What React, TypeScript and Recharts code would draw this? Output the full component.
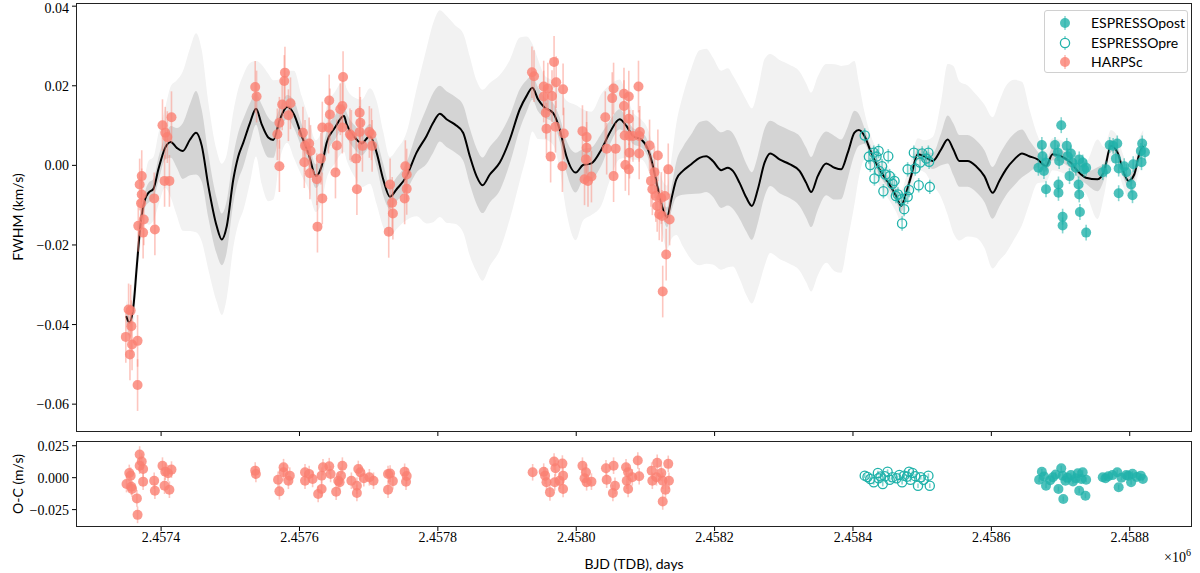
import React from "react";
import { ComposedChart, Area, Line, Scatter, ErrorBar, XAxis, YAxis } from "recharts";

// time axis: BJD - 2457000 (days)
const xTicks = [400, 600, 800, 1000, 1200, 1400, 1600, 1800];
const topTicks = [-0.06, -0.04, -0.02, 0, 0.02, 0.04];
const resTicks = [-0.025, 0, 0.025];

// GP prediction: mean and half widths of the two shaded bands
const gpT = [349.5, 354.2, 360, 364.9, 371.1, 376.9, 381.7, 388.9, 396.1, 405.8, 414, 422.7, 431.3, 441.9, 450.5, 458.8, 468.3, 480.4, 487.7, 494.9, 504.4, 511.6, 518.8, 528.5, 537.2, 545.4, 554.9, 562.2, 571.8, 582.4, 592.1, 603.2, 612.7, 623.8, 632, 639.3, 651.3, 664.3, 668.2, 680.1, 689.8, 701.8, 711.5, 721, 730.7, 740.4, 754.8, 769.2, 783.7, 793.2, 802.9, 812.5, 824.5, 836.5, 846.2, 855.9, 864.5, 875.1, 889.5, 904, 918.4, 928.1, 936.7, 944.8, 954.5, 966.5, 976.2, 985.8, 999.3, 1009.8, 1021.9, 1036.4, 1048.4, 1062.8, 1072.5, 1082, 1094.1, 1103.7, 1110.9, 1118.1, 1125.3, 1131.1, 1137.5, 1144.7, 1154.2, 1166.3, 1178.3, 1188, 1197.5, 1209.6, 1219.2, 1226.4, 1236.1, 1245.8, 1253.9, 1262.5, 1272.2, 1280.4, 1293.8, 1308.3, 1322.7, 1332.4, 1339.6, 1349.1, 1361.3, 1373.3, 1382.9, 1392.5, 1402.1, 1408.4, 1416.6, 1426.3, 1438.2, 1452.7, 1462.4, 1469.6, 1476.8, 1484, 1493.6, 1503.2, 1515.2, 1527.3, 1536.9, 1545.1, 1553.8, 1565.7, 1577.9, 1589.9, 1601.8, 1611.5, 1621.2, 1633.2, 1644.3, 1654.8, 1666.8, 1678.9, 1688.5, 1700.6, 1715, 1724.6, 1736.7, 1753.5, 1763.1, 1772.8, 1782.4, 1790.6, 1798.3, 1806.5, 1813.7, 1819.5];
const gpMean = [-0.0379, -0.0395, -0.0354, -0.0253, -0.0136, -0.0085, -0.0069, -0.0059, -0.001, 0.0044, 0.0059, 0.0044, 0.0036, 0.0065, 0.0082, 0.0049, -0.0052, -0.0153, -0.0186, -0.0153, -0.0035, 0.0023, 0.0057, 0.0107, 0.0142, 0.0103, 0.007, 0.0064, 0.0116, 0.0147, 0.0128, 0.0074, 0.0032, -0.0027, -0.0002, 0.0057, 0.0095, 0.0124, 0.0103, 0.007, 0.0055, 0.0074, 0.0032, -0.0035, -0.0079, -0.006, -0.0027, 0.0032, 0.0074, 0.0107, 0.013, 0.0116, 0.0103, 0.0082, 0.0023, -0.0027, -0.005, -0.0023, 0.0007, 0.0065, 0.0141, 0.0174, 0.0195, 0.0166, 0.0145, 0.0132, 0.009, 0.0023, -0.0018, 0.0001, 0.0005, 0.004, 0.0082, 0.0116, 0.0099, 0.0074, 0.0065, 0.004, -0.0002, -0.006, -0.011, -0.0131, -0.0085, -0.0035, -0.0014, 0.0003, 0.0019, 0.0023, 0.0011, -0.0012, -0.0006, -0.0014, -0.0044, -0.0081, -0.0102, -0.006, 0.0007, 0.003, 0.0015, 0.0003, -0.0014, -0.0044, -0.0067, -0.0027, 0.0005, -0.0006, -0.001, 0.0032, 0.0082, 0.0089, 0.0074, 0.0032, -0.001, -0.0048, -0.0077, -0.0102, -0.0069, -0.0027, 0.0028, 0.0023, 0.0011, 0.004, 0.0065, 0.004, 0.0011, 0.0011, -0.0002, -0.0027, -0.0069, -0.0039, -0.001, 0.0015, 0.003, 0.0023, 0.0015, -0.0002, 0.0028, 0.0023, 0.0007, -0.0014, -0.0031, -0.0035, -0.0014, 0.0049, 0.0032, -0.0014, -0.0039, -0.0023, 0.0028, 0.0049];
const gpSig1 = [0.0015, 0.0015, 0.0015, 0.0015, 0.0015, 0.002, 0.0025, 0.0025, 0.003, 0.003, 0.004, 0.005, 0.007, 0.009, 0.0105, 0.009, 0.008, 0.007, 0.0065, 0.0065, 0.006, 0.006, 0.006, 0.005, 0.004, 0.005, 0.005, 0.0045, 0.003, 0.003, 0.0035, 0.003, 0.003, 0.003, 0.003, 0.003, 0.003, 0.003, 0.003, 0.003, 0.003, 0.003, 0.0035, 0.004, 0.003, 0.003, 0.0035, 0.005, 0.007, 0.0075, 0.007, 0.007, 0.007, 0.007, 0.007, 0.007, 0.007, 0.007, 0.007, 0.006, 0.005, 0.004, 0.003, 0.003, 0.0025, 0.0025, 0.003, 0.004, 0.005, 0.004, 0.004, 0.004, 0.003, 0.0025, 0.002, 0.002, 0.002, 0.002, 0.002, 0.002, 0.002, 0.0025, 0.003, 0.0045, 0.006, 0.0075, 0.009, 0.009, 0.009, 0.0095, 0.0095, 0.0095, 0.009, 0.0085, 0.0085, 0.0085, 0.0085, 0.0082, 0.0085, 0.0085, 0.0088, 0.0088, 0.0088, 0.0085, 0.008, 0.008, 0.0075, 0.0065, 0.0055, 0.004, 0.002, 0.0015, 0.0015, 0.0015, 0.0015, 0.0015, 0.0015, 0.0015, 0.0015, 0.0015, 0.002, 0.004, 0.006, 0.0065, 0.0065, 0.0065, 0.0065, 0.0065, 0.0065, 0.0065, 0.0065, 0.0065, 0.006, 0.004, 0.002, 0.0015, 0.0015, 0.0015, 0.0015, 0.0015, 0.0015, 0.003, 0.002, 0.0015, 0.0015, 0.0015, 0.0015, 0.0015, 0.0015, 0.0015];
const gpSig2 = [0.004, 0.004, 0.005, 0.005, 0.005, 0.006, 0.008, 0.008, 0.009, 0.01, 0.014, 0.017, 0.02, 0.023, 0.025, 0.024, 0.021, 0.019, 0.019, 0.018, 0.017, 0.017, 0.017, 0.015, 0.012, 0.015, 0.016, 0.015, 0.01, 0.009, 0.011, 0.01, 0.009, 0.009, 0.009, 0.009, 0.009, 0.009, 0.009, 0.01, 0.011, 0.012, 0.013, 0.012, 0.01, 0.01, 0.011, 0.016, 0.022, 0.025, 0.026, 0.026, 0.025, 0.025, 0.025, 0.024, 0.024, 0.023, 0.022, 0.02, 0.018, 0.015, 0.011, 0.01, 0.008, 0.008, 0.01, 0.014, 0.017, 0.014, 0.013, 0.014, 0.012, 0.01, 0.008, 0.006, 0.005, 0.005, 0.005, 0.006, 0.007, 0.008, 0.01, 0.014, 0.019, 0.024, 0.027, 0.027, 0.026, 0.025, 0.025, 0.024, 0.024, 0.0245, 0.0245, 0.025, 0.026, 0.025, 0.025, 0.025, 0.025, 0.025, 0.025, 0.025, 0.025, 0.026, 0.026, 0.022, 0.018, 0.012, 0.006, 0.004, 0.004, 0.004, 0.004, 0.004, 0.004, 0.004, 0.004, 0.004, 0.006, 0.012, 0.019, 0.021, 0.02, 0.019, 0.018, 0.018, 0.019, 0.02, 0.021, 0.02, 0.018, 0.012, 0.006, 0.004, 0.004, 0.004, 0.004, 0.004, 0.004, 0.01, 0.006, 0.004, 0.004, 0.004, 0.004, 0.004, 0.004, 0.004];

// HARPSc FWHM
const harpsT = [349, 353, 355, 356, 357, 358, 366, 366, 367, 369, 371, 372, 372, 374, 375, 390, 391, 402, 405, 406, 409, 412, 415, 536, 538, 568, 571, 571, 575, 578, 579, 584, 587, 605, 607, 608, 614, 615, 616, 625, 626, 631, 633, 633, 642, 643, 644, 652, 654, 659, 662, 662, 663, 673, 675, 682, 683, 687, 687, 688, 691, 701, 704, 705, 729, 731, 734, 735, 752, 753, 755, 755, 936, 939, 953, 953, 956, 957, 959, 963, 965, 968, 970, 971, 980, 981, 982, 1009, 1012, 1014, 1015, 1015, 1017, 1022, 1042, 1044, 1052, 1054, 1054, 1057, 1069, 1069, 1070, 1071, 1076, 1076, 1076, 1077, 1077, 1082, 1090, 1091, 1091, 1092, 1106, 1108, 1110, 1113, 1115, 1117, 1118, 1120, 1123, 1124, 1125, 1128, 1130, 1133, 1135];
const harpsV = [-0.0431, -0.0362, -0.0475, -0.0365, -0.0404, -0.045, -0.0441, -0.0552, -0.0152, -0.0048, -0.0095, -0.0027, -0.0073, -0.0169, -0.0136, -0.0083, -0.0161, 0.0101, -0.0039, 0.0082, 0.0071, -0.0039, 0.0121, 0.0197, 0.0173, 0.0078, -0.0002, 0.0107, 0.0153, 0.0212, 0.0233, 0.0126, 0.0156, 0.0082, 0.0008, 0.0049, 0.0055, -0.002, 0.0036, -0.0035, -0.0154, 0.0017, -0.0083, 0.0095, 0.0095, 0.0163, 0.0128, -0.0018, 0.005, 0.0141, 0.0095, 0.0149, 0.0222, 0.0078, 0.0074, 0.0017, -0.006, 0.0132, 0.0084, 0.0107, 0.0049, 0.0084, 0.0078, 0.0049, -0.0167, -0.0048, -0.0094, -0.0121, -0.0083, -0.0002, -0.0023, -0.0059, 0.0234, 0.0224, 0.0198, 0.0173, 0.0132, 0.0092, 0.0193, 0.0022, 0.0174, 0.026, 0.0097, 0.0209, -0.0002, 0.0191, 0.008, 0.0086, -0.0035, 0.0015, 0.0071, 0.0044, -0.0039, -0.0028, 0.0121, 0.0042, 0.0169, 0.0193, -0.0027, 0.0042, 0.018, 0.0149, 0.0075, 0.0001, 0.0173, 0.0117, -0.001, 0.0074, 0.0032, 0.0074, 0.0198, 0.0074, 0.003, 0.0084, 0.005, -0.0039, -0.006, -0.0017, -0.0077, -0.0102, 0.0025, -0.0123, -0.0082, -0.0127, -0.0317, -0.0077, -0.0224, -0.001, -0.0136];

// ESPRESSOpre FWHM
const prePreT = [1417, 1423, 1425, 1430, 1431, 1434, 1437, 1438, 1442, 1444, 1447, 1451, 1453, 1457, 1460, 1462, 1465, 1470, 1471, 1474, 1479, 1479, 1481, 1488, 1490, 1495, 1497, 1500, 1506, 1509, 1510, 1511];
const prePreV = [0.0075, 0.0022, 0.0001, 0.0032, -0.0033, 0.0022, 0.0036, -0.0014, -0.0002, -0.0065, -0.0023, 0.0023, -0.0027, -0.0046, -0.0039, -0.0077, -0.0073, -0.0085, -0.0146, -0.011, -0.0079, -0.001, -0.0062, 0.0032, -0.0008, -0.005, 0.0007, 0.003, 0.0017, 0.0032, 0.0009, -0.0054];

// ESPRESSOpost FWHM
const postT = [1668, 1673, 1674, 1676, 1679, 1679, 1692, 1696, 1697, 1697, 1698, 1701, 1703, 1703, 1709, 1710, 1713, 1715, 1717, 1722, 1726, 1727, 1727, 1728, 1732, 1734, 1737, 1737, 1761, 1766, 1771, 1776, 1780, 1782, 1784, 1784, 1792, 1795, 1802, 1804, 1805, 1816, 1817, 1818, 1822];
const postV = [-0.0006, 0.0051, 0.0023, -0.0014, 0.0007, -0.006, 0.0051, 0.0032, -0.0048, -0.0069, 0.0011, 0.0101, -0.0129, -0.0151, 0.0049, 0.0023, -0.0027, 0.003, 0.0007, -0.0006, -0.0048, -0.0073, 0.0015, -0.0117, 0.0007, -0.001, -0.0169, -0.0006, -0.0017, -0.001, 0.0051, 0.0049, 0.0017, 0.0055, -0.0008, -0.007, -0.0002, -0.0017, -0.0048, -0.0075, 0.0003, 0.0036, 0.0008, 0.0055, 0.0033];

// residuals (O-C)
const harpsResT = [350, 354, 356, 357, 358, 365, 366, 369, 372, 369, 374, 374, 390, 391, 402, 405, 406, 410, 412, 415, 536, 537, 569, 571, 577, 577, 584, 586, 608, 608, 614, 619, 627, 632, 632, 634, 643, 645, 653, 656, 658, 660, 662, 675, 683, 683, 685, 688, 693, 701, 707, 728, 728, 731, 735, 752, 755, 754, 937, 953, 955, 957, 962, 968, 969, 970, 976, 980, 981, 981, 1009, 1012, 1014, 1015, 1022, 1043, 1044, 1053, 1054, 1056, 1072, 1073, 1075, 1075, 1081, 1089, 1091, 1109, 1110, 1116, 1117, 1123, 1125, 1125, 1129, 1133, 1134];
const harpsResV = [-0.005, 0.0037, 0.0016, -0.0071, -0.0089, -0.0162, -0.0291, 0.0181, 0.0126, 0.0094, 0.0068, -0.0031, -0.0024, -0.0102, 0.0094, -0.0063, 0.0047, 0.0035, -0.0094, 0.0063, 0.0055, 0.0029, -0.0016, -0.0107, 0.0082, 0.0042, -0.0024, 0.0016, 0.0042, -0.0024, 0.0029, -0.001, -0.0128, -0.0089, 0.0016, 0.0082, 0.009, 0.0029, -0.011, -0.0024, -0.0036, 0.0016, 0.0094, -0.0024, -0.0063, -0.012, 0.0068, 0.0042, -0.0005, 0.0003, -0.0024, 0.0029, -0.0094, 0.0032, -0.0027, 0.0046, 0.0013, -0.0032, 0.0042, 0.0047, 0.0016, -0.0036, -0.0115, 0.0126, -0.0036, 0.0074, -0.0024, 0.011, 0.0016, -0.0089, 0.0094, -0.0005, 0.0042, -0.0036, -0.0031, 0.0074, -0.0016, -0.012, 0.0094, -0.0063, 0.0082, -0.0024, 0.0042, -0.0089, 0.0003, 0.0134, 0.0011, 0.0055, -0.0024, 0.0003, 0.0116, 0.0037, -0.0024, -0.0186, -0.0094, 0.0108, -0.0024];
const preResT = [1417, 1421, 1425, 1430, 1436, 1437, 1440, 1443, 1446, 1450, 1453, 1457, 1463, 1467, 1471, 1474, 1478, 1481, 1483, 1486, 1490, 1494, 1498, 1502, 1509, 1511];
const preResV = [0.0016, 0.0005, -0.001, -0.0036, 0.0037, -0.0005, 0.001, -0.005, 0.0011, 0.0047, -0.0016, 0.0003, -0.0005, 0.0021, -0.0036, 0.0016, 0.0008, 0.0047, -0.0016, 0.0037, 0.0012, -0.0063, 0.0003, -0.0016, 0.0016, -0.0063];
const postResT = [1669, 1673, 1676, 1679, 1685, 1689, 1693, 1697, 1701, 1703, 1704, 1707, 1710, 1715, 1718, 1722, 1725, 1727, 1730, 1732, 1736, 1737, 1761, 1765, 1769, 1775, 1782, 1784, 1788, 1795, 1798, 1802, 1804, 1810, 1816, 1819];
const postResV = [-0.0016, 0.0047, 0.001, -0.0063, -0.002, 0.0003, 0.0025, -0.0089, 0.0074, 0.0016, -0.0167, -0.0024, 0.0, 0.0021, -0.003, -0.0005, 0.0035, -0.0102, -0.001, 0.0042, -0.0141, -0.0016, 0.0003, -0.0005, 0.0011, 0.002, 0.0042, -0.0075, 0.0, 0.0021, 0.0015, -0.0036, 0.0031, 0.0005, 0.0016, -0.001];

// typical error bar half sizes
const HARPS_ERR = 0.0065;
const PRE_ERR = 0.0018;
const POST_ERR = 0.002;

const SALMON = "#FA8072";
const TEAL = "#20B2AA";

const gpData = gpT.map((t, i) => ({
  t,
  mean: gpMean[i],
  band1: [gpMean[i] - gpSig1[i], gpMean[i] + gpSig1[i]],
  band2: [gpMean[i] - gpSig2[i], gpMean[i] + gpSig2[i]],
}));

const pts = (ts: number[], vs: number[], e: number) => ts.map((t, i) => ({ t, v: vs[i], e }));

const harpsData = pts(harpsT, harpsV, HARPS_ERR);
const preData = pts(prePreT, prePreV, PRE_ERR);
const postData = pts(postT, postV, POST_ERR);
const harpsRes = pts(harpsResT, harpsResV, HARPS_ERR);
const preRes = pts(preResT, preResV, PRE_ERR);
const postRes = pts(postResT, postResV, POST_ERR);

const tickFont = { fontFamily: "'Liberation Serif', serif", fontSize: 14, fill: "#000" };
const labelFont = "Lato, 'DejaVu Sans', sans-serif";

const fmtX = (v: number) => ((v + 2457000) / 1e6).toFixed(4);
const minus = (s: string) => s.replace("-", "\u2212");

const filledDot = (color: string) => (p: any) => (
  <circle cx={p.cx} cy={p.cy} r={5} fill={color} fillOpacity={0.8} />
);
const openDot = (p: any) => (
  <circle cx={p.cx} cy={p.cy} r={4.6} fill="none" stroke={TEAL} strokeWidth={1.3} />
);

const X_DOMAIN = [277, 1890];

function series(h: any[], pre: any[], post: any[]) {
  return [
    <Scatter key="h" data={h} dataKey="v" isAnimationActive={false} shape={filledDot(SALMON)}>
      <ErrorBar dataKey="e" direction="y" width={0} stroke={SALMON} strokeOpacity={0.45} strokeWidth={1.6} />
    </Scatter>,
    <Scatter key="pre" data={pre} dataKey="v" isAnimationActive={false} shape={openDot}>
      <ErrorBar dataKey="e" direction="y" width={0} stroke={TEAL} strokeOpacity={0.55} strokeWidth={1.6} />
    </Scatter>,
    <Scatter key="post" data={post} dataKey="v" isAnimationActive={false} shape={filledDot(TEAL)}>
      <ErrorBar dataKey="e" direction="y" width={0} stroke={TEAL} strokeOpacity={0.55} strokeWidth={1.6} />
    </Scatter>,
  ];
}

function LegendBox() {
  const rows = [
    { label: "ESPRESSOpost", kind: "post" },
    { label: "ESPRESSOpre", kind: "pre" },
    { label: "HARPSc", kind: "harps" },
  ];
  return (
    <div
      style={{
        position: "absolute", left: 1044, top: 10, width: 144, height: 63, boxSizing: "border-box",
        border: "1px solid #d0d0d0", borderRadius: 3, background: "rgba(255,255,255,0.85)",
      }}
    >
      {rows.map((r, i) => (
        <div key={r.label} style={{ position: "absolute", left: 0, top: 3 + i * 19.5, height: 18, width: 144 }}>
          <svg width={40} height={18} style={{ position: "absolute", left: 0, top: 0 }}>
            <line x1={20} x2={20} y1={2} y2={16} stroke={r.kind === "harps" ? SALMON : TEAL} strokeOpacity={0.5} strokeWidth={1.6} />
            {r.kind === "pre" ? (
              <circle cx={20} cy={9} r={4.6} fill="white" stroke={TEAL} strokeWidth={1.3} />
            ) : (
              <circle cx={20} cy={9} r={5} fill={r.kind === "harps" ? SALMON : TEAL} fillOpacity={0.8} />
            )}
          </svg>
          <span style={{ position: "absolute", left: 46, top: 0, fontFamily: labelFont, fontSize: 14, lineHeight: "18px", color: "#000" }}>
            {r.label}
          </span>
        </div>
      ))}
    </div>
  );
}

export default function App() {
  return (
    <div style={{ position: "absolute", left: 0, top: 0, width: 1200, height: 573, background: "#fff", overflow: "hidden" }}>
      {/* main panel: FWHM with GP */}
      <div style={{ position: "absolute", left: 0, top: 0 }}>
        <ComposedChart width={1200} height={440} data={gpData} margin={{ top: 3, right: 8, bottom: 0, left: 0 }}>
          <XAxis
            dataKey="t" type="number" domain={X_DOMAIN} allowDataOverflow ticks={xTicks}
            tickFormatter={() => ""} height={8} axisLine={false} tickSize={4} tickLine={{ stroke: "#000" }}
          />
          <YAxis
            type="number" domain={[-0.067, 0.0408]} allowDataOverflow ticks={topTicks} width={76}
            tickFormatter={(v: number) => minus(v.toFixed(2))} tick={tickFont} axisLine={false}
            tickSize={4} tickMargin={3} tickLine={{ stroke: "#000" }}
          />
          <Area dataKey="band2" type="monotone" stroke="none" fill="#f2f2f2" fillOpacity={1} isAnimationActive={false} />
          <Area dataKey="band1" type="monotone" stroke="none" fill="#d4d4d4" fillOpacity={1} isAnimationActive={false} />
          <Line dataKey="mean" type="monotone" stroke="#000" strokeWidth={2} dot={false} isAnimationActive={false} />
          {series(harpsData, preData, postData)}
        </ComposedChart>
      </div>

      {/* residual panel */}
      <div style={{ position: "absolute", left: 0, top: 433 }}>
        <ComposedChart width={1200} height={140} margin={{ top: 8, right: 8, bottom: 0, left: 0 }}>
          <XAxis
            dataKey="t" type="number" domain={X_DOMAIN} allowDataOverflow ticks={xTicks}
            tickFormatter={fmtX} tick={tickFont} height={46} axisLine={false} tickSize={4} tickMargin={1}
            tickLine={{ stroke: "#000" }}
          />
          <YAxis
            type="number" domain={[-0.0386, 0.0287]} allowDataOverflow ticks={resTicks} width={76}
            tickFormatter={(v: number) => minus(v.toFixed(3))} tick={tickFont} axisLine={false}
            tickSize={4} tickMargin={3} tickLine={{ stroke: "#000" }}
          />
          {series(harpsRes, preRes, postRes)}
        </ComposedChart>
      </div>

      {/* axes frames */}
      <div style={{ position: "absolute", left: 76, top: 3, width: 1116, height: 429, border: "1.2px solid #222", boxSizing: "border-box", pointerEvents: "none" }} />
      <div style={{ position: "absolute", left: 76, top: 441, width: 1116, height: 86, border: "1.2px solid #222", boxSizing: "border-box", pointerEvents: "none" }} />

      <LegendBox />

      {/* axis labels */}
      <div style={{ position: "absolute", left: 17, top: 217, transform: "translate(-50%, -50%) rotate(-90deg)", whiteSpace: "nowrap", fontFamily: labelFont, fontSize: 14 }}>
        FWHM (km/s)
      </div>
      <div style={{ position: "absolute", left: 17, top: 484, transform: "translate(-50%, -50%) rotate(-90deg)", whiteSpace: "nowrap", fontFamily: labelFont, fontSize: 14 }}>
        O-C (m/s)
      </div>
      <div style={{ position: "absolute", left: 634, top: 563, transform: "translate(-50%, -50%)", whiteSpace: "nowrap", fontFamily: labelFont, fontSize: 14 }}>
        BJD (TDB), days
      </div>
      <div style={{ position: "absolute", left: 1164, top: 547, whiteSpace: "nowrap", fontFamily: "'Liberation Serif', serif", fontSize: 14 }}>
        ×10<sup style={{ fontSize: 10 }}>6</sup>
      </div>
    </div>
  );
}
